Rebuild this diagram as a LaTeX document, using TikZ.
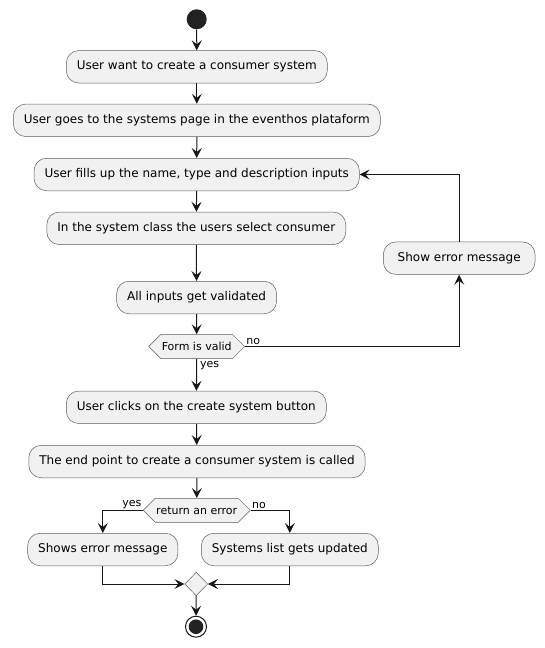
\documentclass[tikz,border=0pt]{standalone}
\usepackage{fontspec}
\setmainfont{DejaVu Sans}
\usetikzlibrary{arrows.meta,shapes.symbols,shapes.geometric}
\definecolor{actfill}{HTML}{F1F1F1}
\definecolor{actline}{HTML}{181818}
\definecolor{dotfill}{HTML}{222222}

\begin{document}
\begin{tikzpicture}[x=1pt, y=-1pt,
    act/.style={draw=actline!70, line width=0.5pt, fill=actfill, rounded corners=12.5pt,
        minimum height=32.5pt, inner xsep=10.5pt, font=\fontsize{12}{14}\selectfont},
    cond/.style={signal, signal to=east and west, signal pointer angle=90, draw=actline!70,
        line width=0.5pt, fill=actfill, minimum height=24pt, inner xsep=1pt,
        font=\fontsize{11}{13}\selectfont},
    merge/.style={diamond, draw=actline!70, line width=0.5pt, fill=actfill,
        minimum width=23pt, minimum height=23.5pt, inner sep=0pt},
    flow/.style={draw=actline, line width=1pt, -{Stealth[length=10pt,width=10pt,inset=4pt]}},
    lbl/.style={font=\fontsize{11}{13}\selectfont, inner sep=1pt}]
    \useasboundingbox (0,0) rectangle (545,648);

    % Start
    \node[circle, fill=dotfill, minimum size=20pt, inner sep=0pt] (start) at (196.7,19.3) {};

    % Main activities
    \node[act] (want) at (196.8,66.8) {User want to create a consumer system};
    \node[act] (goes) at (196.8,120.3) {User goes to the systems page in the eventhos plataform};
    \node[act] (fills) at (196.7,174.5) {User fills up the name, type and description inputs};
    \node[act] (select) at (196.3,228.3) {In the system class the users select consumer};
    \node[act] (validate) at (196.6,297.5) {All inputs get validated};
    \node[cond] (valid) at (196.7,346.5) {Form is valid};
    \node[act, minimum width=151.7pt] (showerr) at (459.2,258.2) {Show error message};
    \node[act] (clicks) at (196.3,407.3) {User clicks on the create system button};
    \node[act] (endpoint) at (197,461.5) {The end point to create a consumer system is called};
    \node[cond] (reterr) at (196.7,510.3) {return an error};
    \node[act] (shows) at (102.8,549.5) {Shows error message};
    \node[act] (updated) at (289.8,549.5) {Systems list gets updated};
    \node[merge] (merge) at (196.2,584) {};

    % Stop
    \node[circle, draw=actline, line width=1pt, fill=white, minimum size=21pt, inner sep=0pt] (stop) at (196,626.7) {};
    \fill[dotfill] (stop.center) circle (7.3pt);

    % Connectors
    \draw[flow] (start) -- (want);
    \draw[flow] (want) -- (goes);
    \draw[flow] (goes) -- (fills);
    \draw[flow] (fills) -- (select);
    \draw[flow] (select) -- (validate);
    \draw[flow] (validate) -- (valid);
    \draw[flow] (valid.east) node[lbl, anchor=south west] {no} -| (showerr);
    \draw[flow] (showerr) |- (fills);
    \draw[flow] (valid.south) node[lbl, anchor=north west, xshift=2pt, yshift=-1.5pt] {yes} -- (clicks);
    \draw[flow] (clicks) -- (endpoint);
    \draw[flow] (endpoint) -- (reterr);
    \draw[flow] (reterr.west) node[lbl, anchor=south east] {yes} -| (shows);
    \draw[flow] (reterr.east) node[lbl, anchor=south west] {no} -| (updated);
    \draw[flow] (shows) |- (merge);
    \draw[flow] (updated) |- (merge);
    \draw[flow] (merge) -- (stop);
\end{tikzpicture}
\end{document}
